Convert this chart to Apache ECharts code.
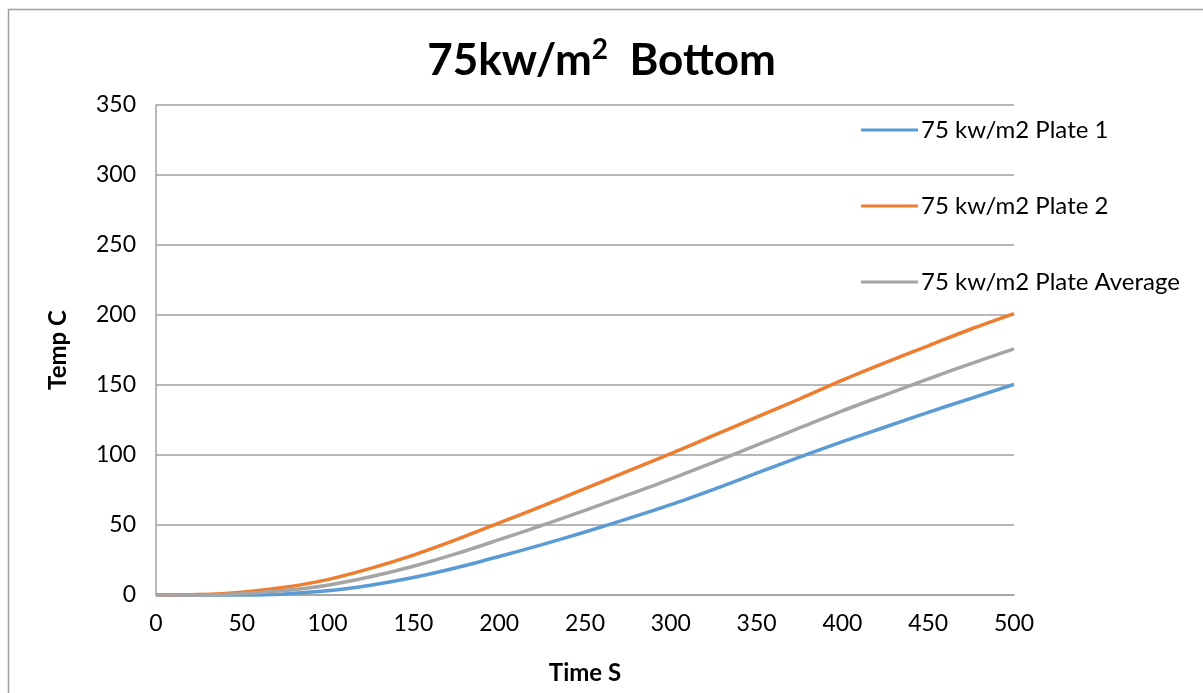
<!DOCTYPE html>
<html>
<head>
<meta charset="utf-8">
<title>75kw/m2 Bottom</title>
<script src="https://cdn.jsdelivr.net/npm/echarts@6/dist/echarts.min.js"></script>
<style>
  html, body { margin: 0; padding: 0; background: #ffffff; }
  #chart { width: 1203px; height: 693px; }
</style>
</head>
<body>
<div id="chart"></div>
<script>
// Time in seconds
const timeS = [0, 25, 50, 75, 100, 125, 150, 175, 200, 225, 250, 275, 300, 325, 350, 375, 400, 425, 450, 475, 500];

// Temperatures (°C)
const plate1 = [0, -0.3, -0.3, 0.8, 3, 7, 12.5, 19.5, 27.5, 36, 45, 54.5, 64.5, 75.5, 87, 98.5, 109.5, 120, 130.5, 140.5, 150.5];
const plate2 = [0, 0.3, 2, 5.5, 11, 19, 28.5, 39.5, 51.5, 63.5, 76, 88.5, 101, 114, 127, 140, 153.5, 166, 178, 190, 201];
const plateAvg = [0, 0, 0.9, 3.2, 7, 13, 20.5, 29.5, 39.5, 49.8, 60.5, 71.5, 82.8, 94.8, 107, 119.3, 131.5, 143, 154.3, 165.3, 175.8];

const seriesNames = ['75 kw/m2 Plate 1', '75 kw/m2 Plate 2', '75 kw/m2 Plate Average'];
const seriesColors = ['#5B9BD5', '#ED7D31', '#A5A5A5'];

const FONT = 'Lato, "Open Sans", sans-serif';

function pairs(ys) {
  return timeS.map((t, i) => [t, ys[i]]);
}

const chart = echarts.init(document.getElementById('chart'), null, { renderer: 'canvas' });

chart.setOption({
  animation: false,
  backgroundColor: '#ffffff',
  title: {
    text: '75kw/m{sup|2}  Bottom',
    left: 'center',
    top: 31,
    textStyle: {
      fontFamily: FONT,
      fontWeight: 'bold',
      fontSize: 44,
      color: '#000000',
      lineHeight: 50,
      rich: {
        sup: {
          fontFamily: FONT,
          fontWeight: 'bold',
          fontSize: 28,
          color: '#000000',
          verticalAlign: 'top',
          lineHeight: 50,
          padding: [0, 0, 12, 0]
        }
      }
    }
  },
  graphic: [{
    type: 'rect',
    left: 6,
    top: 7,
    shape: { x: 0, y: 0, width: 1260, height: 760 },
    style: { fill: 'none', stroke: '#a0a0a0', lineWidth: 1.5 },
    silent: true,
    z: -1
  }],
  legend: {
    orient: 'vertical',
    left: 856,
    top: 112,
    itemWidth: 57,
    itemHeight: 3,
    itemGap: 50,
    icon: 'rect',
    textStyle: {
      fontFamily: FONT,
      fontSize: 24,
      color: '#000000',
      lineHeight: 26,
      padding: [0, 0, 0, -2]
    },
    data: seriesNames
  },
  grid: {
    left: 156,
    right: 189,
    top: 105,
    bottom: 98,
    containLabel: false
  },
  xAxis: {
    type: 'value',
    min: 0,
    max: 500,
    interval: 50,
    name: 'Time S',
    nameLocation: 'middle',
    nameGap: 66,
    nameTextStyle: { fontFamily: FONT, fontWeight: 'bold', fontSize: 24, color: '#000000' },
    axisLine: { show: true, lineStyle: { color: '#a0a0a0', width: 1.5 } },
    axisTick: { show: false },
    splitLine: { show: false },
    axisLabel: { fontFamily: FONT, fontSize: 23, color: '#000000', margin: 17 }
  },
  yAxis: {
    type: 'value',
    min: 0,
    max: 350,
    interval: 50,
    name: 'Temp C',
    nameLocation: 'middle',
    nameGap: 86,
    nameRotate: 90,
    nameTextStyle: { fontFamily: FONT, fontWeight: 'bold', fontSize: 24, color: '#000000' },
    axisLine: { show: true, lineStyle: { color: '#a0a0a0', width: 1.5 } },
    axisTick: { show: false },
    splitLine: { show: true, lineStyle: { color: '#a0a0a0', width: 1.5 } },
    axisLabel: { fontFamily: FONT, fontSize: 23, color: '#000000', margin: 20 }
  },
  series: [plate1, plate2, plateAvg].map((ys, i) => ({
    name: seriesNames[i],
    type: 'line',
    data: pairs(ys),
    smooth: 0.3,
    showSymbol: false,
    symbol: 'none',
    color: seriesColors[i],
    lineStyle: { color: seriesColors[i], width: 3.5 },
    itemStyle: { color: seriesColors[i] },
    z: 3 + i
  }))
});
</script>
</body>
</html>
